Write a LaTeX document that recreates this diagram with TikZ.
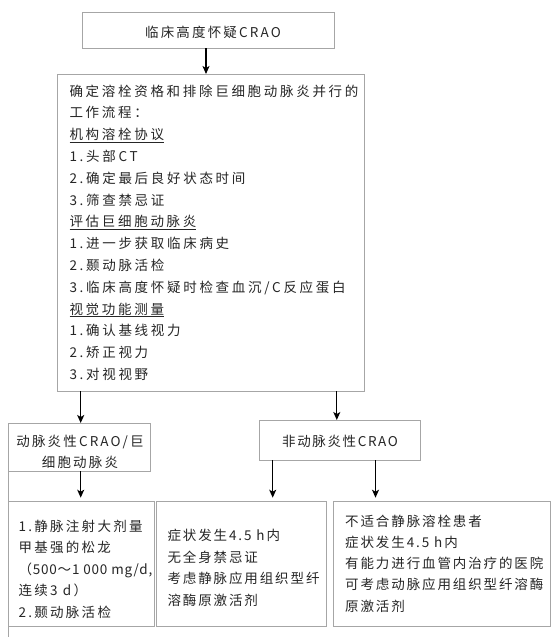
\documentclass[tikz,border=0pt]{standalone}
\usepackage{fontspec}
\setmainfont{Noto Sans CJK SC}
\newfontfamily\cjkA[LetterSpace=20]{Noto Sans CJK SC}
\newfontfamily\cjkE[LetterSpace=17]{Noto Sans CJK SC}
\newfontfamily\cjkB[LetterSpace=14]{Noto Sans CJK SC}
\newfontfamily\cjkC[LetterSpace=16]{Noto Sans CJK SC}
\newfontfamily\cjkD[LetterSpace=12]{Noto Sans CJK SC}
\newfontfamily\cjkF[LetterSpace=6]{Noto Sans CJK SC}
\usetikzlibrary{arrows.meta}
\definecolor{boxgray}{HTML}{A6A6A6}
\definecolor{txtgray}{HTML}{262626}
\newcommand{\fstrut}{\rule{0pt}{12.5pt}}
\begin{document}
\begin{tikzpicture}[x=1pt,y=-1pt,
  box/.style={draw=boxgray, line width=0.8pt, inner sep=0pt, outer sep=0pt, anchor=north west},
  boxline/.style={draw=boxgray, line width=0.8pt},
  arr/.style={draw=black, line width=1.3pt, -{Stealth[length=8pt,width=7pt,inset=2pt]}},
  txt/.style={inner sep=0pt, text=txtgray, align=left, anchor=north west},
  one/.style={inner sep=0pt, text=txtgray, anchor=base}
]
\fill[white] (0,0) rectangle (557,640);
\useasboundingbox (0,0) rectangle (557,640);

% boxes
\node[box, minimum width=252pt, minimum height=36pt] (top) at (82,12) {};
\node[box, minimum width=307pt, minimum height=317pt] (main) at (57.3,74) {};
\node[box, minimum width=142pt, minimum height=48pt] (box2) at (8,423) {};
\node[box, minimum width=161pt, minimum height=40pt] (non) at (259,420) {};
\node[box, minimum width=146pt, minimum height=125pt] (boxA) at (8,501.7) {};
\node[box, minimum width=170pt, minimum height=125pt] (boxB) at (156.7,501.7) {};
\node[box, minimum width=217.4pt, minimum height=125pt] (boxC) at (333.3,501.7) {};
\coordinate (tail) at (8,637);
\draw[boxline] (box2.south west) -- (boxA.north west);
\draw[boxline] (boxA.south west) -- (tail);

% texts
\node[one, font=\cjkC\fontsize{13.5}{16}\selectfont] (toptext) at (213,37.4) {临床高度怀疑CRAO};
\node[txt, font=\cjkA\fontsize{13.5}{21.8}\selectfont] (maintext) at (69.3,83.3) {\fstrut 确定溶栓资格和排除巨细胞动脉炎并行的\\
工作流程：\\
\underline{机构溶栓协议}\\
1.头部CT\\
2.确定最后良好状态时间\\
3.筛查禁忌证\\
\underline{评估巨细胞动脉炎}\\
1.进一步获取临床病史\\
2.颞动脉活检\\
3.临床高度怀疑时检查血沉/C反应蛋白\\
\underline{视觉功能测量}\\
1.确认基线视力\\
2.矫正视力\\
3.对视视野};
\node[txt, align=center, anchor=north, font=\cjkC\fontsize{13.5}{21.5}\selectfont] (box2text) at (80,433.6) {\fstrut 动脉炎性CRAO/巨\\细胞动脉炎};
\node[one, font=\cjkD\fontsize{13.5}{16}\selectfont] (nontext) at (340,446.1) {非动脉炎性CRAO};
\node[txt, font=\cjkE\fontsize{13.5}{21.5}\selectfont] (textA) at (18.3,518.6) {\fstrut 1.静脉注射大剂量\\
甲基强的松龙\\
{\cjkF（500～1 000 mg/d,}\\
连续3 d）\\
2.颞动脉活检};
\node[txt, font=\cjkB\fontsize{13.5}{21.7}\selectfont] (textB) at (167.3,527.6) {\fstrut 症状发生4.5 h内\\
无全身禁忌证\\
考虑静脉应用组织型纤\\
溶酶原激活剂};
\node[txt, font=\cjkB\fontsize{13.5}{21.3}\selectfont] (textC) at (345,513.3) {\fstrut 不适合静脉溶栓患者\\
症状发生4.5 h内\\
有能力进行血管内治疗的医院\\
可考虑动脉应用组织型纤溶酶\\
原激活剂};

% arrows
\coordinate (xa) at (206,0);
\coordinate (xl) at (80.7,0);
\coordinate (xr) at (336.8,0);
\coordinate (xb) at (272.7,0);
\coordinate (xc) at (375.5,0);
\draw[arr] (top.south -| xa) -- (main.north -| xa);
\draw[arr] (main.south -| xl) -- (box2.north -| xl);
\draw[arr] (main.south -| xr) -- (non.north -| xr);
\draw[arr, shorten >=4pt] (box2.south -| xl) -- (boxA.north -| xl);
\draw[arr, shorten >=4pt] (non.south -| xb) -- (boxB.north -| xb);
\draw[arr, shorten >=4pt] (non.south -| xc) -- (boxC.north -| xc);
\end{tikzpicture}
\end{document}
